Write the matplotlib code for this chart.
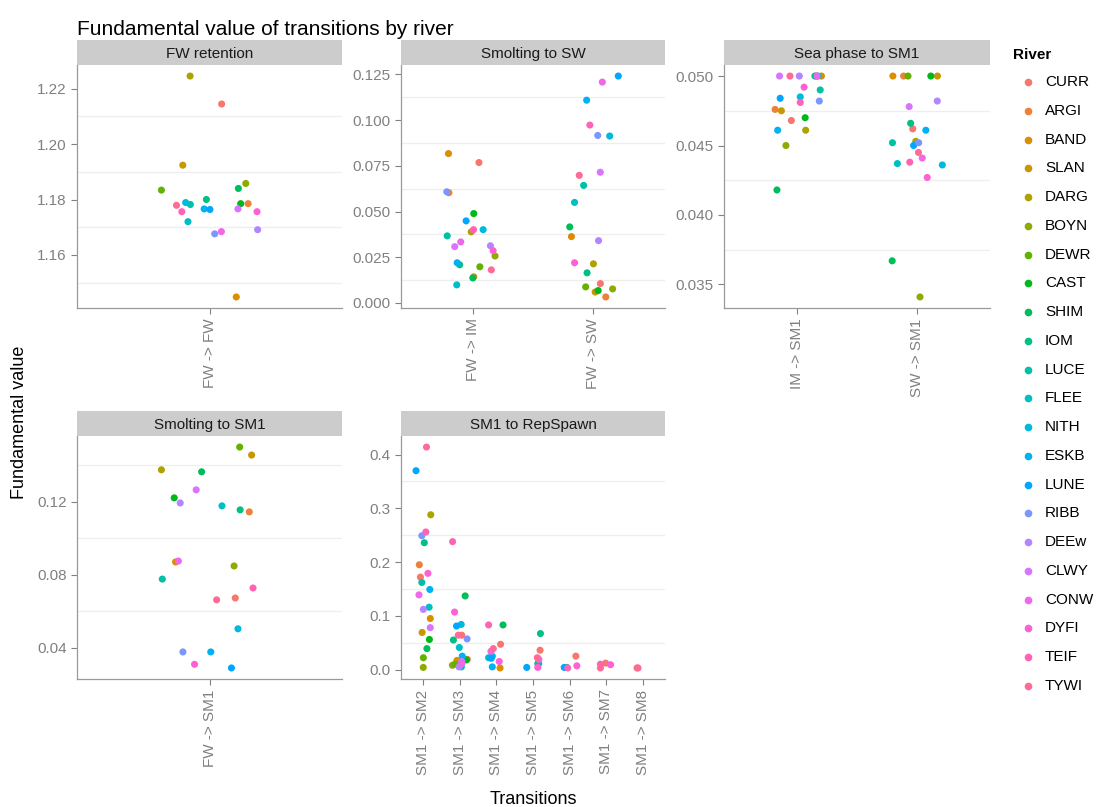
import numpy as np
import matplotlib
matplotlib.use("Agg")
import matplotlib.pyplot as plt
from matplotlib.lines import Line2D
from matplotlib.ticker import MultipleLocator, FormatStrFormatter

plt.rcParams['font.family'] = ['Liberation Sans', 'DejaVu Sans']

rivers = ["CURR", "ARGI", "BAND", "SLAN", "DARG", "BOYN", "DEWR", "CAST", "SHIM", "IOM", "LUCE",
          "FLEE", "NITH", "ESKB", "LUNE", "RIBB", "DEEw", "CLWY", "CONW", "DYFI", "TEIF", "TYWI"]
nan = np.nan

# one value per river for each transition (nan = not estimated)
fw_fw = [1.2145, 1.1785, 1.1448, 1.1924, 1.2246, 1.1858, 1.1834, 1.1785, 1.1840, 1.1800, 1.1782,
         1.1720, 1.1789, 1.1766, 1.1764, 1.1676, 1.1691, 1.1766, 1.1684, 1.1756, 1.1756, 1.1779]
fw_im = [0.0768, 0.0603, 0.0817, 0.0143, 0.0389, 0.0257, 0.0198, 0.0489, 0.0137, 0.0209, 0.0367,
         0.0099, 0.0401, 0.0220, 0.0449, 0.0608, 0.0313, 0.0308, 0.0334, 0.0286, 0.0401, 0.0181]
fw_sw = [0.0106, 0.0033, 0.0363, 0.0060, 0.0214, 0.0077, 0.0088, 0.0068, 0.0416, 0.0165, 0.0643,
         0.0550, 0.0913, 0.1109, 0.1241, 0.0916, 0.0341, 0.0715, 0.1208, 0.0220, 0.0973, 0.0698]
im_sm1 = [0.0468, 0.0476, 0.0500, 0.0475, 0.0461, 0.0450, 0.0500, 0.0470, 0.0418, 0.0500, 0.0490,
          0.0500, 0.0485, 0.0461, 0.0484, 0.0482, 0.0500, 0.0500, 0.0500, 0.0492, 0.0481, 0.0500]
sw_sm1 = [0.0462, 0.0500, 0.0500, 0.0500, 0.0453, 0.0341, 0.0500, 0.0500, 0.0367, 0.0466, 0.0452,
          0.0437, 0.0436, 0.0461, 0.0450, 0.0452, 0.0482, 0.0478, 0.0441, 0.0427, 0.0438, 0.0445]
fw_sm1 = [0.0672, 0.1145, 0.0870, 0.1457, 0.1376, 0.0848, 0.1501, 0.1222, 0.1365, 0.1156, 0.0776,
          0.1178, 0.0503, 0.0376, 0.0288, 0.0376, 0.1194, 0.1266, 0.0875, 0.0308, 0.0727, 0.0662]
sm1_sm2 = [0.172, 0.195, 0.095, 0.069, 0.288, 0.004, 0.022, 0.056, 0.039, 0.236, 0.162,
           0.116, nan, 0.149, 0.370, 0.249, 0.112, 0.078, 0.139, 0.179, 0.256, 0.414]
sm1_sm3 = [0.064, 0.019, 0.017, 0.012, nan, 0.008, 0.010, 0.018, 0.137, 0.055, 0.005,
           0.041, 0.084, 0.025, 0.081, 0.057, 0.005, 0.015, 0.011, 0.107, 0.238, 0.064]
sm1_sm4 = [0.047, nan, 0.003, nan, nan, nan, nan, nan, 0.083, nan, nan,
           0.022, 0.025, 0.005, 0.021, nan, nan, nan, 0.034, 0.015, 0.083, 0.039]
sm1_sm5 = [0.036, nan, nan, nan, nan, nan, nan, nan, 0.011, 0.067, 0.011,
           nan, nan, nan, 0.004, nan, nan, nan, 0.019, 0.004, nan, 0.022]
sm1_sm6 = [0.025, nan, nan, nan, nan, nan, nan, nan, nan, nan, 0.004,
           nan, nan, nan, 0.004, nan, nan, nan, nan, 0.007, 0.003, nan]
sm1_sm7 = [0.012, nan, nan, nan, nan, nan, nan, nan, nan, nan, nan,
           nan, nan, nan, nan, nan, nan, nan, nan, 0.009, 0.010, 0.003]
sm1_sm8 = [0.003, nan, nan, nan, nan, nan, nan, nan, nan, nan, nan,
           nan, nan, nan, nan, nan, nan, nan, nan, nan, nan, 0.003]

facets = [
    ("FW retention", [("FW -> FW", fw_fw)], 0.02, "%.2f"),
    ("Smolting to SW", [("FW -> IM", fw_im), ("FW -> SW", fw_sw)], 0.025, "%.3f"),
    ("Sea phase to SM1", [("IM -> SM1", im_sm1), ("SW -> SM1", sw_sm1)], 0.005, "%.3f"),
    ("Smolting to SM1", [("FW -> SM1", fw_sm1)], 0.04, "%.2f"),
    ("SM1 to RepSpawn", [("SM1 -> SM2", sm1_sm2), ("SM1 -> SM3", sm1_sm3), ("SM1 -> SM4", sm1_sm4),
                         ("SM1 -> SM5", sm1_sm5), ("SM1 -> SM6", sm1_sm6), ("SM1 -> SM7", sm1_sm7),
                         ("SM1 -> SM8", sm1_sm8)], 0.1, "%.1f"),
]


def hcl_hex(h, c, l):
    # polar Luv -> sRGB, same as R's hcl()
    hr = np.radians(h)
    u, v = c * np.cos(hr), c * np.sin(hr)
    xn, yn, zn = 95.047, 100.0, 108.883
    un = 4 * xn / (xn + 15 * yn + 3 * zn)
    vn = 9 * yn / (xn + 15 * yn + 3 * zn)
    y = yn * ((l + 16) / 116) ** 3 if l > 8 else yn * l / 903.3
    up, vp = u / (13 * l) + un, v / (13 * l) + vn
    x = y * 9 * up / (4 * vp)
    z = y * (12 - 3 * up - 20 * vp) / (4 * vp)
    x, y, z = x / 100, y / 100, z / 100
    rgb = np.array([3.240479 * x - 1.537150 * y - 0.498535 * z,
                    -0.969256 * x + 1.875992 * y + 0.041556 * z,
                    0.055648 * x - 0.204043 * y + 1.057311 * z])
    rgb = np.where(rgb > 0.0031308, 1.055 * np.clip(rgb, 0, None) ** (1 / 2.4) - 0.055, 12.92 * rgb)
    return tuple(np.clip(rgb, 0, 1))


n = len(rivers)
hues = np.linspace(15, 375, n + 1)[:-1]
colors = [hcl_hex(h, 100, 65) for h in hues]

W, H = 1097, 807
fig = plt.figure(figsize=(W / 100, H / 100), dpi=100)


def px_axes(x0, y0, x1, y1):
    return fig.add_axes([x0 / W, 1 - y1 / H, (x1 - x0) / W, (y1 - y0) / H])


cols = [(77, 342), (401, 665), (724, 990)]
rows = [(40, 65, 308), (411, 436, 679)]
grey = "#808080"
rng = np.random.default_rng(7)
jitter = 0.22

for k, (name, trans, step, fmt) in enumerate(facets):
    x0, x1 = cols[k % 3]
    s0, p0, p1 = rows[k // 3]
    ax = px_axes(x0, p0, x1, p1)
    allv = []
    for j, (lab, vals) in enumerate(trans):
        vals = np.array(vals, dtype=float)
        ok = ~np.isnan(vals)
        xs = j + 1 + rng.uniform(-jitter, jitter, n)
        ax.scatter(xs[ok], vals[ok], c=[colors[i] for i in np.where(ok)[0]], s=26,
                   linewidths=0, zorder=3)
        allv.extend(vals[ok])
    lo, hi = min(allv), max(allv)
    pad = (hi - lo) * 0.05
    ax.set_ylim(lo - pad, hi + pad)
    ax.set_xlim(0.4, len(trans) + 0.6)
    ax.set_xticks(range(1, len(trans) + 1))
    ax.set_xticklabels([t for t, _ in trans], rotation=90, color=grey, fontsize=11)
    ax.yaxis.set_major_locator(MultipleLocator(step))
    ax.yaxis.set_minor_locator(MultipleLocator(step / 2))
    ax.yaxis.set_major_formatter(FormatStrFormatter(fmt))
    ax.tick_params(axis='y', which='minor', length=0)
    ax.tick_params(which='major', colors=grey, labelsize=11, length=4, width=0.8)
    ax.grid(which='minor', axis='y', color='#EEEEEE', lw=0.9, zorder=0)
    ax.grid(which='major', color='white', lw=1.6, zorder=1)
    ax.set_axisbelow(True)
    for sp in ('top', 'right'):
        ax.spines[sp].set_visible(False)
    for sp in ('left', 'bottom'):
        ax.spines[sp].set_color('#999999')
        ax.spines[sp].set_linewidth(0.9)

    strip = px_axes(x0, s0, x1, p0)
    strip.set_facecolor('#CCCCCC')
    strip.set_xticks([])
    strip.set_yticks([])
    for sp in strip.spines.values():
        sp.set_visible(False)
    strip.text(0.5, 0.45, name, ha='center', va='center', fontsize=11, color='#1A1A1A',
               transform=strip.transAxes)

fig.text(77 / W, 1 - 35 / H, "Fundamental value of transitions by river", fontsize=15, va='baseline')
fig.text(20 / W, 1 - 422 / H, "Fundamental value", rotation=90, fontsize=13, ha='center', va='center')
fig.text(533 / W, 1 - 799 / H, "Transitions", fontsize=13, ha='center', va='center')

# legend
fig.text(1013 / W, 1 - 55 / H, "River", fontsize=11, fontweight='bold', va='center')
for i, r in enumerate(rivers):
    y = 1 - (82 + i * 28.76) / H
    fig.add_artist(Line2D([1028 / W], [y], marker='o', ms=4.5, color=colors[i], lw=0,
                          transform=fig.transFigure))
    fig.text(1045 / W, y, r, fontsize=11, va='center')

fig.savefig("out.png", dpi=100)
